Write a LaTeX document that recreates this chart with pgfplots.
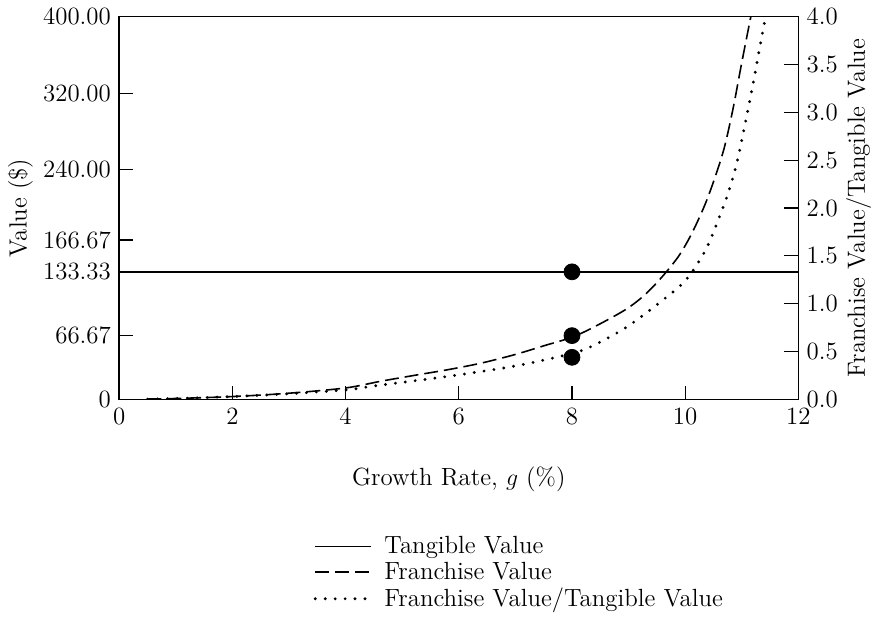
\documentclass[border=0pt]{standalone}
\usepackage{fontspec}
\usepackage{pgfplots}
\pgfplotsset{compat=1.18}
\usepackage{pgfplotstable}

% franchise value ($)
\pgfplotstableread{
g    fv
0.5  0.4
1    1
2    3
3    6.5
4    12
4.62 19
5.2  25
5.8  31
6.4  38
7    47
7.5  56
8    65
8.4  76
8.95 94
9.3  110
9.62 130
9.9  151
10.13 175
10.36 205
10.55 236
10.7 265
10.85 305
11.0 352
11.16 400
}\fvdata

% franchise value / tangible value, dotted curve (right axis)
\pgfplotstableread{
g    ratio
0.5  0.003
1    0.01
2    0.03
3    0.06
4    0.10
4.62 0.15
5.8  0.24
7    0.35
8    0.48
8.4  0.57
8.95 0.75
9.5  0.99
10.0 1.24
10.36 1.56
10.6 1.9
10.75 2.14
10.9 2.44
11.05 2.85
11.2 3.3
11.3 3.62
11.42 4.0
}\ratiodata

\begin{document}
\fontsize{12}{14}\selectfont
\begin{tikzpicture}
\pgfplotsset{
  common/.style={
    scale only axis,
    width=341.5pt, height=192.5pt,
    xmin=0, xmax=12,
    tick align=inside,
    major tick length=7pt,
    every tick/.style={black, line width=0.6pt},
    tick label style={font=\fontsize{12.5}{14}\selectfont},
    label style={font=\fontsize{12.5}{14}\selectfont},
    /pgf/number format/assume math mode=true,
  },
}
\begin{axis}[
  common,
  ymin=0, ymax=400,
  axis line style={line width=0.8pt},
  xtick={0,2,...,12},
  xtick pos=bottom,
  ytick pos=left,
  ytick={0,66.67,133.33,166.67,240,320,400},
  yticklabels={0,66.67,133.33,166.67,240.00,320.00,400.00},
  xlabel={Growth Rate, $g$ (\%)},
  xlabel style={yshift=-13pt},
  ylabel={Value (\$)},
  ylabel style={yshift=-3pt},
]
\addplot[black, line width=0.8pt] coordinates {(0,133.33) (12,133.33)};
\addplot[black, line width=0.8pt, smooth, dash pattern=on 7pt off 3pt] table[x=g, y=fv] {\fvdata};
\addplot[only marks, mark=*, mark size=4pt, black] coordinates {(8,133.33) (8,66.67) (8,44)};
\end{axis}

\begin{axis}[
  common,
  ymin=0, ymax=4,
  axis y line*=right,
  axis x line=none,
  ytick={0,0.5,...,4},
  yticklabel style={/pgf/number format/.cd, fixed, fixed zerofill, precision=1},
  ylabel={Franchise Value/Tangible Value},
  ylabel style={yshift=4pt},
  legend style={at={(0.277,-0.335)}, anchor=north west, draw=none, fill=none,
    font=\fontsize{12.5}{13}\selectfont, row sep=-1.5pt},
  legend cell align=left,
  legend image code/.code={\draw[#1] (0pt,0pt) -- (28pt,0pt);},
]
\addlegendimage{black, line width=0.8pt}
\addlegendentry{\hspace{4pt}Tangible Value}
\addlegendimage{black, line width=0.8pt, dash pattern=on 7pt off 3pt}
\addlegendentry{\hspace{4pt}Franchise Value}
\addplot[black, line width=1.6pt, smooth, line cap=round, dash pattern=on 0pt off 5pt] table[x=g, y=ratio] {\ratiodata};
\addlegendentry{\hspace{4pt}Franchise Value/Tangible Value}
\end{axis}
\end{tikzpicture}
\end{document}
